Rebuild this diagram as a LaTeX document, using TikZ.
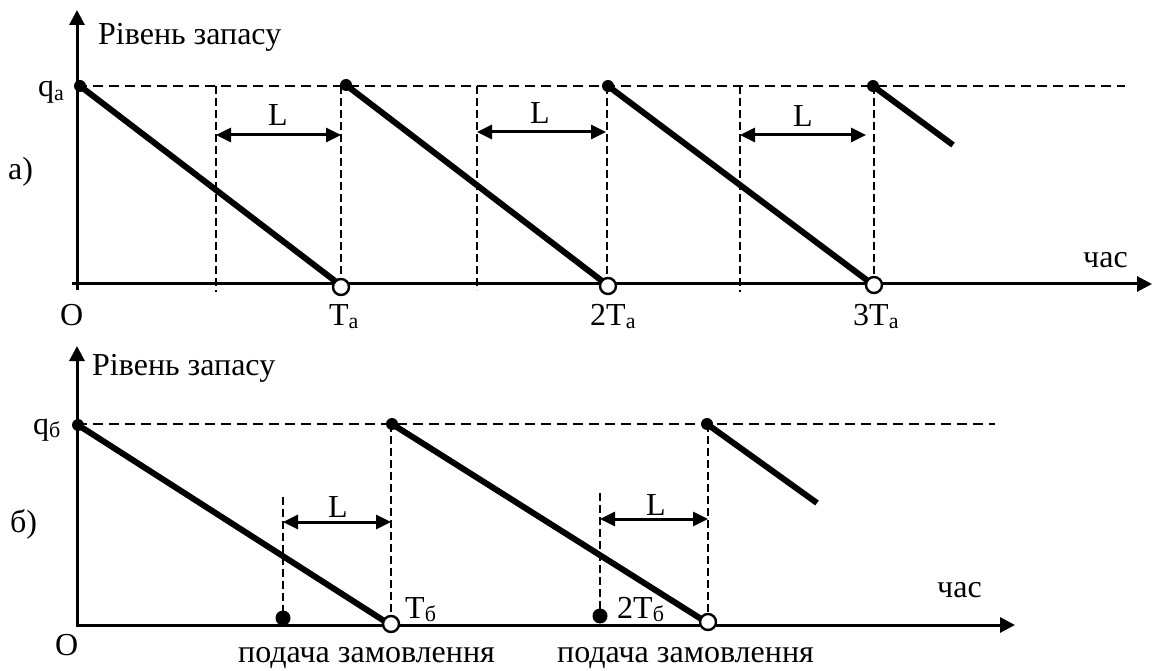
\documentclass[tikz,border=0pt]{standalone}
\usepackage{fontspec}
\setmainfont{Liberation Serif}
\usetikzlibrary{arrows.meta}
\newcommand{\sbs}[1]{\raisebox{-0.1em}{\fontsize{22}{24}\selectfont #1}}
\begin{document}
\begin{tikzpicture}[x=1pt,y=-1pt,
  lbl/.style={font=\fontsize{32}{36}\selectfont, inner sep=0pt},
  axisline/.style={line width=3pt, -{Triangle[length=15pt,width=15pt]}},
  saw/.style={line width=6pt},
  guide/.style={line width=2pt, dash pattern=on 10pt off 6pt},
  vguide/.style={line width=2pt, dash pattern=on 8pt off 4pt},
  lead/.style={line width=3pt, {Triangle[length=15pt,width=14pt]}-{Triangle[length=15pt,width=14pt]}},
  opendot/.style={circle, draw, fill=white, line width=2.4pt, minimum size=16pt, inner sep=0pt},
  fulldot/.style={circle, fill, minimum size=12pt, inner sep=0pt},
  orderdot/.style={circle, fill, minimum size=15pt, inner sep=0pt}]
\useasboundingbox (0,0) rectangle (1152,671);

% ---------- a) ----------
\coordinate (a0) at (77,290);
\coordinate (atop) at (77,10);
\coordinate (ax0) at (72,284);
\coordinate (ax1) at (1152,284);
\draw[axisline] (a0) -- (atop);
\draw[axisline] (ax0) -- (ax1);
\coordinate (aq0) at (77,86);
\coordinate (aq1) at (1125,86);
\draw[guide] (aq0) -- (aq1);

% dashed verticals
\coordinate (av1t) at (216,86);  \coordinate (av1b) at (216,292);
\coordinate (av2t) at (341,86);  \coordinate (av2b) at (341,281);
\coordinate (av3t) at (477,86);  \coordinate (av3b) at (477,290);
\coordinate (av4t) at (607,86);  \coordinate (av4b) at (607,280);
\coordinate (av5t) at (740,86);  \coordinate (av5b) at (740,292);
\coordinate (av6t) at (874,86);  \coordinate (av6b) at (874,279);
\foreach \i in {1,...,6} \draw[vguide] (av\i t) -- (av\i b);

% sawtooth
\coordinate (as1) at (80,86);   \coordinate (ae1) at (339,284);
\coordinate (as2) at (346,85);  \coordinate (ae2) at (606,284);
\coordinate (as3) at (608,86);  \coordinate (ae3) at (872,284);
\coordinate (as4) at (873,86);  \coordinate (ae4) at (953,145);
\foreach \i in {1,...,4} \draw[saw] (as\i) -- (ae\i);
\foreach \i in {1,...,4} \node[fulldot] (asd\i) at (as\i) {};
\node[opendot] (ac1) at (341,287) {};
\node[opendot] (ac2) at (608,286) {};
\node[opendot] (ac3) at (874,285) {};

% L arrows
\coordinate (aL1a) at (216,135); \coordinate (aL1b) at (341,135);
\coordinate (aL2a) at (477,132); \coordinate (aL2b) at (606,132);
\coordinate (aL3a) at (740,135); \coordinate (aL3b) at (866,135);
\draw[lead] (aL1a) -- (aL1b);
\draw[lead] (aL2a) -- (aL2b);
\draw[lead] (aL3a) -- (aL3b);
\node[lbl, anchor=base] (aLt1) at (278,126) {L};
\node[lbl, anchor=base] (aLt2) at (540,124) {L};
\node[lbl, anchor=base] (aLt3) at (803,127) {L};

% labels
\node[lbl, anchor=base west] (aylab) at (98,45) {Рівень запасу};
\node[lbl, anchor=base west] (aq) at (38,97) {q\sbs{a}};
\node[lbl, anchor=base west] (aname) at (8,180) {а)};
\node[lbl, anchor=base west] (aO) at (60,325) {O};
\node[lbl, anchor=base west] (aT1) at (329,325) {T\sbs{a}};
\node[lbl, anchor=base west] (aT2) at (590,325) {2T\sbs{a}};
\node[lbl, anchor=base west] (aT3) at (853,325) {3T\sbs{a}};
\node[lbl, anchor=base west] (atime) at (1083,268) {час};

% ---------- б) ----------
\coordinate (b0) at (77,627);
\coordinate (btop) at (77,346);
\coordinate (bx0) at (77,625);
\coordinate (bx1) at (1015,625);
\draw[axisline] (b0) -- (btop);
\draw[axisline] (bx0) -- (bx1);
\coordinate (bq0) at (77,424);
\coordinate (bq1) at (995,424);
\draw[guide] (bq0) -- (bq1);

\coordinate (bv1t) at (391,424); \coordinate (bv1b) at (391,616);
\coordinate (bv2t) at (708,424); \coordinate (bv2b) at (708,614);
\coordinate (bv3t) at (283,497); \coordinate (bv3b) at (283,617);
\coordinate (bv4t) at (600,493); \coordinate (bv4b) at (600,615);
\foreach \i in {1,...,4} \draw[vguide] (bv\i t) -- (bv\i b);

\coordinate (bs1) at (78,425);  \coordinate (be1) at (389,624);
\coordinate (bs2) at (392,424); \coordinate (be2) at (706,622);
\coordinate (bs3) at (707,424); \coordinate (be3) at (817,503);
\foreach \i in {1,...,3} \draw[saw] (bs\i) -- (be\i);
\foreach \i in {1,...,3} \node[fulldot] (bsd\i) at (bs\i) {};
\node[opendot] (bc1) at (391,624) {};
\node[opendot] (bc2) at (708,622) {};
\node[orderdot] (bo1) at (283,618) {};
\node[orderdot] (bo2) at (600,616) {};

\coordinate (bL1a) at (283,522); \coordinate (bL1b) at (391,522);
\coordinate (bL2a) at (600,519); \coordinate (bL2b) at (708,519);
\draw[lead] (bL1a) -- (bL1b);
\draw[lead] (bL2a) -- (bL2b);
\node[lbl, anchor=base] (bLt1) at (338,517) {L};
\node[lbl, anchor=base] (bLt2) at (656,515) {L};

\node[lbl, anchor=base west] (bylab) at (92,375) {Рівень запасу};
\node[lbl, anchor=base west] (bq) at (33,434) {q\sbs{б}};
\node[lbl, anchor=base west] (bname) at (10,532) {б)};
\node[lbl, anchor=base west] (bO) at (55,655) {O};
\node[lbl, anchor=base west] (bT1) at (405,618) {T\sbs{б}};
\node[lbl, anchor=base west] (bT2) at (617,618) {2T\sbs{б}};
\node[lbl, anchor=base west] (btime) at (937,597) {час};
\node[lbl, anchor=base west] (bord1) at (238,662) {подача замовлення};
\node[lbl, anchor=base west] (bord2) at (557,662) {подача замовлення};
\end{tikzpicture}
\end{document}
